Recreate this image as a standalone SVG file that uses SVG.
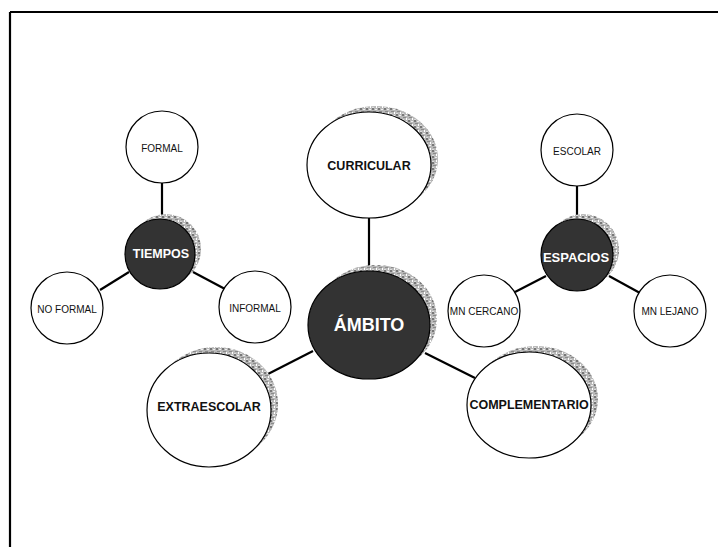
<svg xmlns="http://www.w3.org/2000/svg" width="718" height="547" viewBox="0 0 718 547">
<defs>
<pattern id="tex" width="6" height="6" patternUnits="userSpaceOnUse">
<rect width="6" height="6" fill="#b8b8b8"/>
<rect x="0" y="0" width="2" height="2" fill="#777"/>
<rect x="3" y="1" width="2" height="1" fill="#eee"/>
<rect x="1" y="3" width="3" height="1" fill="#8a8a8a"/>
<rect x="4" y="4" width="1" height="2" fill="#fff"/>
<rect x="0" y="5" width="2" height="1" fill="#ddd"/>
</pattern>
<style>
.sh{fill:url(#tex);stroke:none}
.w{fill:#fff;stroke:#000;stroke-width:1.2}
.d{fill:#333;stroke:#000;stroke-width:1.2}
.c{stroke:#000;stroke-width:2.2;fill:none}
.t{font-family:"Liberation Sans",Arial,sans-serif;text-anchor:middle;dominant-baseline:central}
.b{font-weight:bold;font-size:12.5px;fill:#111}
.bw{font-weight:bold;font-size:12.5px;fill:#fff}
.s{font-size:10px;fill:#111}
</style>
</defs>
<rect width="718" height="547" fill="#fff"/>
<g id="frame">
<line x1="10" y1="12" x2="718" y2="12" stroke="#000" stroke-width="2.2"/>
<line x1="10" y1="12" x2="10" y2="547" stroke="#000" stroke-width="2.2"/>
</g>
<g id="connectors">
<line class="c" x1="369" y1="218" x2="369" y2="272"/>
<line class="c" x1="162" y1="183" x2="162" y2="218"/>
<line class="c" x1="100" y1="290" x2="129" y2="272"/>
<line class="c" x1="193" y1="272" x2="225" y2="289"/>
<line class="c" x1="577" y1="186" x2="577" y2="219"/>
<line class="c" x1="515" y1="292" x2="546" y2="276"/>
<line class="c" x1="609" y1="276" x2="640" y2="293"/>
<line class="c" x1="313" y1="351" x2="268" y2="374"/>
<line class="c" x1="425" y1="353" x2="475" y2="378"/>
</g>
<g id="curricular">
<ellipse class="sh" cx="376" cy="159" rx="62" ry="53"/>
<ellipse class="w" cx="369" cy="165" rx="62" ry="53"/>
<text class="t b" x="369" y="166">CURRICULAR</text>
</g>
<g id="ambito">
<ellipse class="sh" cx="376" cy="319" rx="61" ry="54"/>
<ellipse class="d" cx="369" cy="325" rx="61" ry="54"/>
<text class="t" x="369" y="325" style="font-weight:bold;font-size:18px;fill:#fff">ÁMBITO</text>
</g>
<g id="tiempos">
<circle class="sh" cx="166" cy="249" r="35"/>
<circle class="d" cx="160" cy="254" r="35"/>
<text class="t bw" x="161" y="254">TIEMPOS</text>
</g>
<g id="formal">
<circle class="w" cx="162" cy="147" r="36"/>
<text class="t s" x="162" y="148">FORMAL</text>
</g>
<g id="noformal">
<circle class="w" cx="67" cy="308" r="36"/>
<text class="t s" x="67" y="309">NO FORMAL</text>
</g>
<g id="informal">
<circle class="w" cx="255" cy="307" r="36"/>
<text class="t s" x="255" y="308">INFORMAL</text>
</g>
<g id="espacios">
<circle class="sh" cx="583" cy="250" r="36"/>
<circle class="d" cx="577" cy="255" r="36"/>
<text class="t bw" x="576" y="257" style="font-size:13px">ESPACIOS</text>
</g>
<g id="escolar">
<circle class="w" cx="577" cy="150" r="36"/>
<text class="t s" x="577" y="151">ESCOLAR</text>
</g>
<g id="mncercano">
<circle class="w" cx="484" cy="311" r="36"/>
<text class="t s" x="484" y="311">MN CERCANO</text>
</g>
<g id="mnlejano">
<circle class="w" cx="670" cy="311" r="36"/>
<text class="t s" x="670" y="311">MN LEJANO</text>
</g>
<g id="extraescolar">
<ellipse class="sh" cx="216" cy="404" rx="62" ry="57"/>
<ellipse class="w" cx="209" cy="410" rx="62" ry="57"/>
<text class="t b" x="209" y="407">EXTRAESCOLAR</text>
</g>
<g id="complementario">
<ellipse class="sh" cx="536" cy="399" rx="62" ry="53"/>
<ellipse class="w" cx="529" cy="405" rx="62" ry="53"/>
<text class="t b" x="529" y="405">COMPLEMENTARIO</text>
</g>
</svg>
